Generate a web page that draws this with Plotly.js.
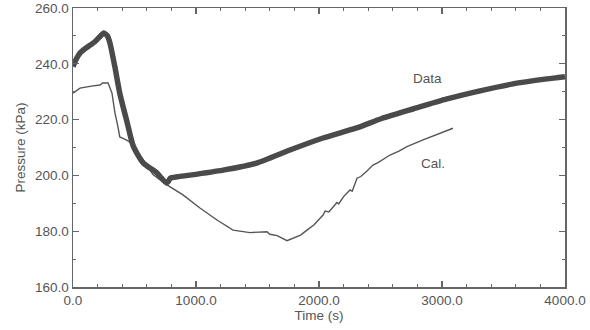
<!DOCTYPE html>
<html>
<head>
<meta charset="utf-8">
<script src="https://cdn.plot.ly/plotly-3.0.1.min.js"></script>
<style>html,body{margin:0;padding:0;background:#fff;}#chart{width:590px;height:330px;}</style>
</head>
<body>
<div id="chart"></div>
<script>
// Measured pressure (Data)
const dataTime = [0, 30, 60, 100, 140, 180, 220, 250, 280, 300, 340, 380, 440, 490, 570, 680, 720, 760, 775, 790, 850, 951, 1220, 1493, 1764, 2033, 2306, 2510, 2764, 3041, 3309, 3577, 3854, 4000];
const dataPressure = [239, 242, 244, 245.5, 246.7, 248, 249.8, 251, 250, 247.5, 239, 229.5, 219, 210.5, 204.5, 201, 199, 197.3, 197.8, 199, 199.5, 200.1, 201.9, 204.4, 209.1, 213.4, 217, 220.4, 223.8, 227.4, 230.3, 232.8, 234.6, 235.4];

// Calculated pressure (Cal.)
const calTime = [0, 57, 150, 220, 240, 285, 317, 341, 366, 380, 420, 450, 470, 520, 580, 650, 764, 894, 1032, 1171, 1301, 1439, 1577, 1600, 1660, 1740, 1789, 1850, 1902, 1960, 2033, 2050, 2080, 2120, 2146, 2160, 2200, 2252, 2270, 2309, 2340, 2390, 2439, 2480, 2577, 2650, 2715, 2846, 2984, 3089];
const calPressure = [229.5, 231.3, 232, 232.4, 233.1, 233.1, 229.5, 222.4, 217.3, 213.8, 213, 212.3, 211.5, 208.5, 205, 200.3, 196.6, 193, 188.3, 184, 180.4, 179.5, 179.8, 178.9, 178.4, 176.6, 177.4, 178.6, 180.4, 182.3, 185.8, 187.2, 186.9, 189, 190.3, 189.8, 192.4, 194.8, 194.3, 199, 199.6, 201.6, 203.7, 204.6, 207.3, 208.7, 210.3, 212.7, 215.1, 216.9];

// Axis ticks
const xTickVals = [0, 1000, 2000, 3000, 4000];
const xTickText = ["0.0", "1000.0", "2000.0", "3000.0", "4000.0"];
const yTickVals = [160, 180, 200, 220, 240, 260];
const yTickText = ["160.0", "180.0", "200.0", "220.0", "240.0", "260.0"];

const ink = '#4a4a4a';
const textCol = '#555555';
const font = {family: 'Liberation Sans, Arial, sans-serif', size: 13.5, color: textCol};

const traces = [
  {x: calTime, y: calPressure, mode: 'lines', line: {color: '#555555', width: 1.4}, hoverinfo: 'skip'},
  {x: dataTime, y: dataPressure, mode: 'lines', line: {color: ink, width: 5.5, shape: 'spline', smoothing: 0.6}, hoverinfo: 'skip'}
];

const axisCommon = {
  showgrid: false, zeroline: false,
  showline: true, linecolor: '#666666', linewidth: 1.5,
  mirror: 'ticks', ticks: 'inside', ticklen: 6, tickwidth: 1.2, tickcolor: '#666666',
  tickfont: font
};

const layout = {
  width: 590, height: 330,
  margin: {l: 73, r: 25, t: 8, b: 43},
  paper_bgcolor: '#ffffff', plot_bgcolor: '#ffffff',
  showlegend: false,
  font: font,
  xaxis: Object.assign({}, axisCommon, {
    range: [0, 4000], tickvals: xTickVals, ticktext: xTickText,
    minor: {dtick: 200, ticks: 'inside', ticklen: 3, tickcolor: '#666666', tickwidth: 1},
    title: {text: 'Time (s)', font: font, standoff: 2}
  }),
  yaxis: Object.assign({}, axisCommon, {
    range: [160, 260], tickvals: yTickVals, ticktext: yTickText,
    minor: {dtick: 10, ticks: 'inside', ticklen: 3, tickcolor: '#666666', tickwidth: 1},
    title: {text: 'Pressure (kPa)', font: font, standoff: 6}
  }),
  annotations: [
    {x: 2880, y: 234.6, xref: 'x', yref: 'y', text: 'Data', showarrow: false, font: font},
    {x: 2925, y: 204.4, xref: 'x', yref: 'y', text: 'Cal.', showarrow: false, font: font}
  ]
};

Plotly.newPlot('chart', traces, layout, {staticPlot: true, displayModeBar: false});
</script>
</body>
</html>
